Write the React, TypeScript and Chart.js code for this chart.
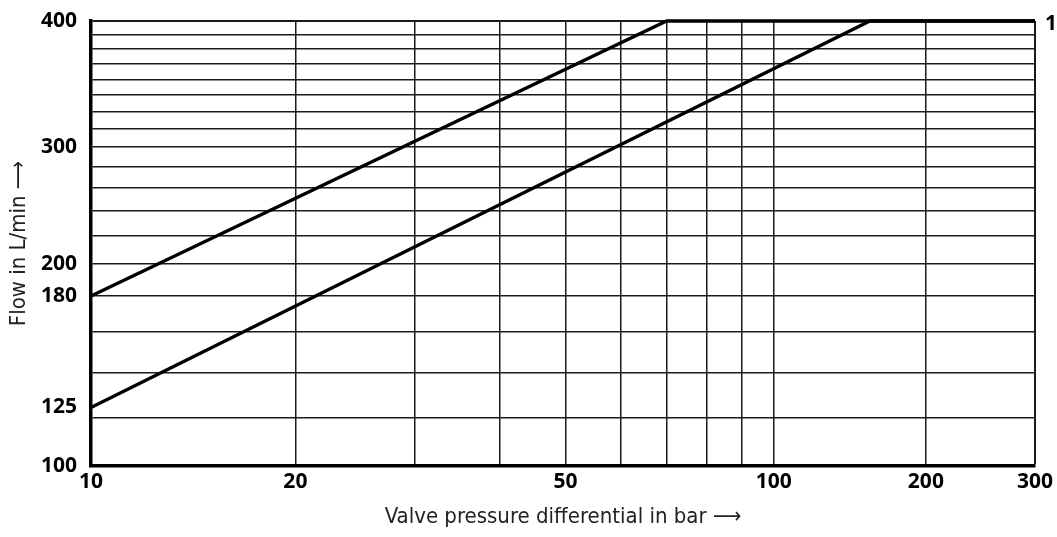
import React, { useEffect, useRef } from 'react';
import { Chart, LogarithmicScale, registerables } from 'chart.js';

// Valve pressure differential (bar) on the horizontal axis
const pressureTicks = [10, 20, 30, 40, 50, 60, 70, 80, 90, 100, 200, 300];
const pressureLabels = [10, 20, 50, 100, 200, 300];

// Flow (L/min) on the vertical axis
const flowTicks = [100, 120, 125, 140, 160, 180, 200, 220, 240, 260, 280, 300, 312.5, 325, 337.5, 350, 362.5, 375, 387.5, 400];
const flowLabels = [100, 125, 180, 200, 300, 400];

// Characteristic curves
const upperCurvePressure = [10, 70, 300];
const upperCurveFlow = [180, 400, 400];
const lowerCurvePressure = [10, 155, 300];
const lowerCurveFlow = [125, 400, 400];

const curveTagText = '1';

// The printed diagram spaces its decades unevenly, so each axis is a
// log scale that is piecewise between reference values (value, fraction of axis).
const AXIS_STOPS: Record<string, [number, number][]> = {
  x: [[10, 0], [50, 0.5027], [100, 0.7232], [200, 0.8844], [300, 1]],
  y: [[100, 0], [125, 0.1315], [180, 0.3822], [200, 0.4546], [300, 0.7176], [400, 1]],
};

class SegmentedLogScale extends LogarithmicScale {
  static id = 'segmentedLog';
  static defaults = LogarithmicScale.defaults;

  private stops(): [number, number][] {
    return AXIS_STOPS[(this as any).id];
  }

  getPixelForValue(value: number) {
    const s = this.stops();
    let i = 0;
    while (i < s.length - 2 && value > s[i + 1][0]) i++;
    const [v0, f0] = s[i];
    const [v1, f1] = s[i + 1];
    const t = Math.log(value / v0) / Math.log(v1 / v0);
    return this.getPixelForDecimal(f0 + t * (f1 - f0));
  }

  getValueForPixel(pixel: number) {
    const s = this.stops();
    const f = this.getDecimalForPixel(pixel);
    let i = 0;
    while (i < s.length - 2 && f > s[i + 1][1]) i++;
    const [v0, f0] = s[i];
    const [v1, f1] = s[i + 1];
    const t = (f - f0) / (f1 - f0);
    return v0 * Math.pow(v1 / v0, t);
  }
}

Chart.register(...registerables, SegmentedLogScale);

const W = 1057;
const H = 537;

const tickFont = { family: '"Open Sans", "DejaVu Sans", sans-serif', size: 21, weight: 'bold' as const };
const titleFont = { family: '"Liberation Sans Narrow", "DejaVu Sans Condensed", "Open Sans", sans-serif', size: 22, weight: 'normal' as const };

const curveTag = {
  id: 'curveTag',
  afterDraw(chart: Chart) {
    const { ctx, chartArea, scales } = chart;
    ctx.save();
    ctx.font = 'bold 21px "Open Sans", sans-serif';
    ctx.fillStyle = '#000';
    ctx.textAlign = 'left';
    ctx.textBaseline = 'middle';
    ctx.fillText(curveTagText, chartArea.right + 10, scales.y.getPixelForValue(400) + 3);
    ctx.restore();
  },
};

export default function App() {
  const canvasRef = useRef<HTMLCanvasElement | null>(null);

  useEffect(() => {
    if (!canvasRef.current) return;
    const toPoints = (xs: number[], ys: number[]) => xs.map((x, i) => ({ x, y: ys[i] }));
    const lineStyle = {
      borderColor: '#000',
      borderWidth: 3.3,
      pointRadius: 0,
      tension: 0,
      fill: false,
      clip: false as const,
    };

    const chart = new Chart(canvasRef.current, {
      type: 'line',
      data: {
        datasets: [
          { label: 'upper', data: toPoints(upperCurvePressure, upperCurveFlow), ...lineStyle },
          { label: 'lower', data: toPoints(lowerCurvePressure, lowerCurveFlow), ...lineStyle },
        ],
      },
      plugins: [curveTag],
      options: {
        responsive: false,
        animation: false,
        events: [],
        layout: { padding: { top: 21, right: 22, left: 0, bottom: 0 } },
        plugins: {
          legend: { display: false },
          tooltip: { enabled: false },
        },
        scales: {
          x: {
            type: 'segmentedLog' as any,
            min: 10,
            max: 300,
            afterBuildTicks: (scale: any) => {
              scale.ticks = pressureTicks.map((value) => ({ value }));
            },
            afterFit: (scale: any) => {
              scale.height = 71;
              scale.paddingLeft = 0;
              scale.paddingRight = 0;
            },
            ticks: {
              autoSkip: false,
              maxRotation: 0,
              padding: 3,
              color: '#000',
              font: tickFont,
              callback: (value: any) => (pressureLabels.includes(Number(value)) ? String(value) : ''),
            },
            grid: {
              drawTicks: false,
              color: '#1a1a1a',
              lineWidth: (ctx: any) => (ctx.tick && ctx.tick.value === 300 ? 2 : 1.5),
            },
            border: { display: true, color: '#000', width: 3.5 },
            title: {
              display: true,
              text: 'Valve pressure differential in bar ⟶',
              color: '#222',
              font: titleFont,
              padding: { top: 0, bottom: 7 },
            },
          },
          y: {
            type: 'segmentedLog' as any,
            min: 100,
            max: 400,
            afterBuildTicks: (scale: any) => {
              scale.ticks = flowTicks.map((value) => ({ value }));
            },
            afterFit: (scale: any) => {
              scale.width = 91;
              scale.paddingTop = 0;
              scale.paddingBottom = 0;
            },
            ticks: {
              autoSkip: false,
              padding: 14,
              color: '#000',
              font: tickFont,
              callback: (value: any) => (flowLabels.includes(Number(value)) ? String(value) : ''),
            },
            grid: {
              drawTicks: false,
              color: (ctx: any) => (ctx.tick && ctx.tick.value === 125 ? 'rgba(0,0,0,0)' : '#1a1a1a'),
              lineWidth: (ctx: any) => (ctx.tick && ctx.tick.value === 400 ? 2 : 1.5),
            },
            border: { display: true, color: '#000', width: 3.5 },
            title: {
              display: true,
              text: 'Flow in L/min ⟶',
              color: '#222',
              font: titleFont,
              padding: { top: 6, bottom: 0 },
            },
          },
        },
      },
    });

    return () => chart.destroy();
  }, []);

  return (
    <div style={{ position: 'fixed', left: 0, top: 0, width: W, height: H, background: '#fff' }}>
      <canvas ref={canvasRef} width={W} height={H} style={{ width: W, height: H, display: 'block' }} />
    </div>
  );
}
